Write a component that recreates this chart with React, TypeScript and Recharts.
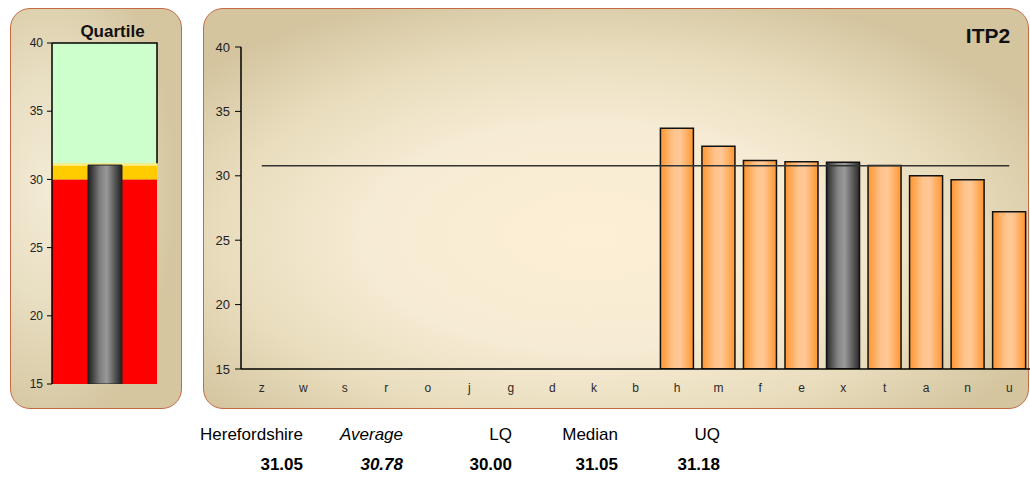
import React from 'react';
import { BarChart, Bar, XAxis, YAxis, Cell, ReferenceArea, ReferenceLine } from 'recharts';

// ITP2 values by district (empty districts have no value)
const categories = ['z', 'w', 's', 'r', 'o', 'j', 'g', 'd', 'k', 'b', 'h', 'm', 'f', 'e', 'x', 't', 'a', 'n', 'u'];
const itp2Values: (number | null)[] = [
  null, null, null, null, null, null, null, null, null, null,
  33.7, 32.3, 31.18, 31.1, 31.05, 30.8, 30.0, 29.7, 27.2,
];
const highlightCategory = 'x';
const yTicks = [15, 20, 25, 30, 35, 40];
const yDomain: [number, number] = [15, 40];

// Summary statistics
const herefordshire = 31.05;
const average = 30.78;
const lowerQuartile = 30.0;
const median = 31.05;
const upperQuartile = 31.18;
const statLabels = ['Herefordshire', 'Average', 'LQ', 'Median', 'UQ'];
const statValues = [herefordshire, average, lowerQuartile, median, upperQuartile];
const statItalic = [false, true, false, false, false];
const statRightEdges = [303, 403, 512, 618, 720];

const FONT = '"Liberation Sans", Arial, Helvetica, sans-serif';

const mainData = categories.map((name, i) => ({ name, value: itp2Values[i] }));
const quartileData = [{ name: 'Herefordshire', value: herefordshire }];

const GreenBand = (p: any) => {
  const { x, y, width, height } = p;
  return (
    <g>
      <rect x={x} y={y} width={width} height={height} fill="#ccffcc" />
      <path d={`M${x},${y} H${x + width} V${y + height}`} stroke="#000" strokeWidth={1.5} fill="none" />
    </g>
  );
};

const YellowBand = (p: any) => {
  const { x, y, width, height } = p;
  return (
    <g>
      <rect x={x} y={y} width={width} height={height} fill="#ffcc00" />
      <rect x={x} y={y} width={width} height={2.5} fill="#ffef8a" />
    </g>
  );
};

const RedBand = (p: any) => {
  const { x, y, width, height } = p;
  return <rect x={x} y={y} width={width} height={height} fill="#ff0000" />;
};

const panelBase: React.CSSProperties = {
  position: 'absolute',
  boxSizing: 'border-box',
  border: '1.5px solid #c46a45',
  borderRadius: 20,
};

export default function App() {
  return (
    <div style={{ position: 'absolute', left: 0, top: 0, width: 1030, height: 477, overflow: 'hidden', background: '#fff', fontFamily: FONT }}>
      {/* Quartile panel */}
      <div
        style={{
          ...panelBase,
          left: 10,
          top: 8,
          width: 172,
          height: 401,
          background: 'radial-gradient(ellipse 75% 60% at 22% 45%, #f3ebd6 0%, #e9dfc3 45%, #d5c6a0 100%)',
        }}
      />
      {/* ITP2 panel */}
      <div
        style={{
          ...panelBase,
          left: 203,
          top: 8,
          width: 826,
          height: 401,
          background:
            'radial-gradient(ellipse 62% 64% at 47% 57%, #fdefd6 0%, #f6ebd3 45%, #e9ddbe 72%, #d4c59f 100%)',
        }}
      />

      <div style={{ position: 'absolute', left: 10, top: 8 }}>
        <BarChart width={171} height={401} data={quartileData} margin={{ top: 35, right: 24, bottom: 25, left: 0 }}>
          <defs>
            <linearGradient id="qGrey" x1="0" y1="0" x2="1" y2="0">
              <stop offset="0%" stopColor="#1e1e1e" />
              <stop offset="35%" stopColor="#7e7e7e" />
              <stop offset="55%" stopColor="#999999" />
              <stop offset="100%" stopColor="#1e1e1e" />
            </linearGradient>
          </defs>
          <ReferenceArea y1={yDomain[0]} y2={lowerQuartile} shape={RedBand} />
          <ReferenceArea y1={lowerQuartile} y2={upperQuartile} shape={YellowBand} />
          <ReferenceArea y1={upperQuartile} y2={yDomain[1]} shape={GreenBand} />
          <XAxis dataKey="name" tick={false} tickLine={false} height={0} axisLine={{ stroke: '#000', strokeWidth: 1.5 }} />
          <YAxis
            width={42}
            domain={yDomain}
            ticks={yTicks}
            type="number"
            allowDataOverflow
            tick={{ fontSize: 12, fill: '#222', fontFamily: FONT }}
            tickSize={5}
            tickMargin={4}
            tickLine={{ stroke: '#000' }}
            axisLine={{ stroke: '#000', strokeWidth: 1.5 }}
          />
          <Bar dataKey="value" barSize={34} fill="url(#qGrey)" stroke="#222" strokeWidth={1} isAnimationActive={false} />
        </BarChart>
      </div>

      <div style={{ position: 'absolute', left: 203, top: 8 }}>
        <BarChart
          width={827}
          height={401}
          data={mainData}
          margin={{ top: 39, right: 0, bottom: 10, left: 0 }}
          barCategoryGap="10%"
        >
          <defs>
            <linearGradient id="barOrange" x1="0" y1="0" x2="1" y2="0">
              <stop offset="0%" stopColor="#ff9630" />
              <stop offset="40%" stopColor="#ffc48e" />
              <stop offset="60%" stopColor="#ffc896" />
              <stop offset="100%" stopColor="#ff9630" />
            </linearGradient>
            <linearGradient id="barGrey" x1="0" y1="0" x2="1" y2="0">
              <stop offset="0%" stopColor="#2a2a2a" />
              <stop offset="35%" stopColor="#858585" />
              <stop offset="55%" stopColor="#999999" />
              <stop offset="100%" stopColor="#2a2a2a" />
            </linearGradient>
          </defs>
          <XAxis
            dataKey="name"
            height={30}
            tickLine={false}
            tickSize={6}
            tickMargin={8}
            interval={0}
            tick={{ fontSize: 12, fill: '#2a2a2a', fontFamily: FONT }}
            axisLine={{ stroke: '#000', strokeWidth: 1.5 }}
          />
          <YAxis
            width={38}
            domain={yDomain}
            ticks={yTicks}
            type="number"
            allowDataOverflow
            tick={{ fontSize: 13, fill: '#222', fontFamily: FONT }}
            tickSize={6}
            tickMargin={5}
            tickLine={{ stroke: '#000' }}
            axisLine={{ stroke: '#000', strokeWidth: 1.5 }}
          />
          <Bar dataKey="value" stroke="#111" strokeWidth={1.5} isAnimationActive={false}>
            {mainData.map((d) => (
              <Cell key={d.name} fill={d.name === highlightCategory ? 'url(#barGrey)' : 'url(#barOrange)'} />
            ))}
          </Bar>
          <ReferenceLine
            segment={[
              { x: categories[0], y: average },
              { x: categories[categories.length - 1], y: average },
            ]}
            stroke="#333"
            strokeWidth={1.5}
          />
        </BarChart>
      </div>

      {/* Titles and summary table */}
      <svg
        width={1030}
        height={477}
        style={{ position: 'absolute', left: 0, top: 0, pointerEvents: 'none' }}
        fontFamily={FONT}
      >
        <text x={112.5} y={37} textAnchor="middle" fontSize={17} fontWeight="bold" fill="#111">
          Quartile
        </text>
        <text x={988} y={43} textAnchor="middle" fontSize={21} fontWeight="bold" fill="#111">
          ITP2
        </text>
        {statLabels.map((label, i) => (
          <text key={label} x={statRightEdges[i]} y={440} textAnchor="end" fontSize={17} fill="#000" fontStyle={statItalic[i] ? 'italic' : 'normal'}>
            {label}
          </text>
        ))}
        {statValues.map((v, i) => (
          <text
            key={statLabels[i]}
            x={statRightEdges[i]}
            y={470}
            textAnchor="end"
            fontSize={17}
            fontWeight="bold"
            fill="#000"
            fontStyle={statItalic[i] ? 'italic' : 'normal'}
          >
            {v.toFixed(2)}
          </text>
        ))}
      </svg>
    </div>
  );
}
